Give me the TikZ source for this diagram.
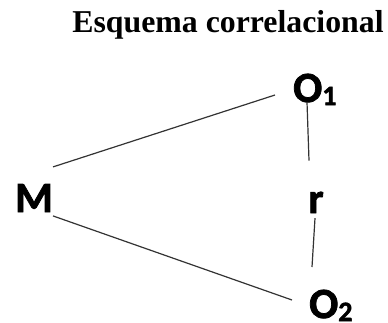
\documentclass[tikz,border=0pt]{standalone}
\usepackage{fontspec}
\setmainfont{Liberation Serif}
\newfontfamily\calibri[BoldFont={Carlito Bold},BoldFeatures={FakeBold=1.8}]{Carlito}
\newcommand{\idx}[1]{\raisebox{-3pt}{\fontsize{28}{28}\selectfont #1}}
\begin{document}
\begin{tikzpicture}[x=1pt,y=1pt,
  lbl/.style={inner sep=0pt,font=\calibri\bfseries\fontsize{43}{43}\selectfont},
  link/.style={line width=1.2pt,black!80}]
\useasboundingbox (0,0) rectangle (388,322);
%title
\node[inner sep=0pt,anchor=base,font=\bfseries\fontsize{31.8}{31.8}\selectfont] (title) at (228,289) {Esquema correlacional};

\node[lbl,anchor=base] (M) at (34,110) {M};
\node[lbl,anchor=base west] (O1) at (293,220) {O\idx{1}};
\node[lbl,anchor=base] (r) at (316,109) {r};
\node[lbl,anchor=base west] (O2) at (309,4) {O\idx{2}};

\draw[link] ([shift={(0,17)}]M.north east) -- ([shift={(-18,7)}]O1.base west);
\draw[link] ([shift={(0,-32)}]M.north east) -- ([shift={(-17,18)}]O2.base west);
\draw[link] ([shift={(14,0)}]O1.base west) -- ([shift={(-7,31)}]r.north);
\draw[link] ([shift={(-1,-5)}]r.south) -- ([shift={(3,51)}]O2.base west);
\end{tikzpicture}
\end{document}
